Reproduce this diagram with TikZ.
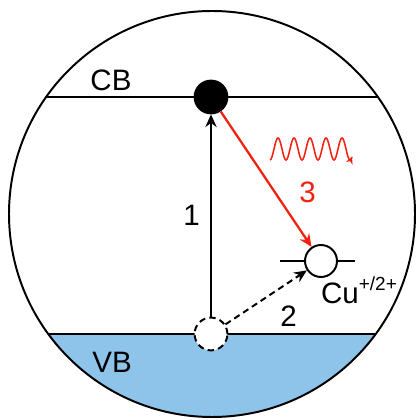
\documentclass[tikz,border=0pt]{standalone}
\usepackage{fontspec}
\setmainfont{Liberation Sans}
\usetikzlibrary{arrows.meta, positioning}
\definecolor{vbFill}{HTML}{8EC3EA}
\definecolor{emitRed}{HTML}{F2200F}

\begin{document}
\begin{tikzpicture}[
    x=0.025cm, y=0.025cm,
    >=Stealth,
    font=\fontsize{21}{23}\selectfont,
    bandline/.style={line width=1.4pt},
    carrier/.style={
        circle, draw, line width=1.4pt, inner sep=0pt,
        minimum size=0.82cm
    },
    longdash/.style={dash pattern=on 4.5pt off 3pt},
    midarrow/.style={
        -{Stealth[length=9pt,width=8pt]},
        line width=1.4pt
    },
    redarrow/.style={
        -{Stealth[length=9pt,width=8pt]},
        emitRed, line width=1.6pt
    },
]
\useasboundingbox (0,0) rectangle (420,420);

% ============================================================
%  BANDS
% ============================================================
\coordinate (ctr) at (212,206);
\begin{scope}
    \clip (ctr) circle (203);
    \fill[vbFill] (0,0) rectangle (420,86);
    \draw[bandline] (0,323) -- (420,323);
    \draw[bandline] (0,86) -- (420,86);
\end{scope}
\draw[line width=1.4pt] (ctr) circle (203);

\node at (111,340) (cbLabel) {CB};
\node at (112,58) (vbLabel) {VB};

% ============================================================
%  CARRIERS
% ============================================================
\node[carrier, fill=black] at (211,323) (elec) {};
\node[carrier, fill=white, longdash] at (211,86) (hole) {};
\node[carrier, fill=white, minimum size=0.8cm] at (321,159) (cu) {};
\draw[bandline] (cu.west) -- ++(-24,0);
\draw[bandline] (cu.east) -- ++(17,0);
\node at (359,130) (cuLabel)
    {Cu\raisebox{9pt}{\fontsize{13.5}{14}\selectfont +/2+}};

% ============================================================
%  TRANSITIONS
% ============================================================
\draw[midarrow] (hole) -- node[left=4pt] {1} (elec);
\draw[midarrow, longdash] (hole) -- node[below right=2pt and 6pt] {2} (cu);
\draw[redarrow] (elec) -- node[pos=0.6, right=13pt, text=emitRed] {3} (cu);

% emitted light
\draw[emitRed, line width=1.1pt, -{Stealth[length=5pt,width=5pt]}]
    plot[domain=0:82, samples=83]
    ({270+\x}, {271-11*cos(22.5*\x)});

\end{tikzpicture}
\end{document}
